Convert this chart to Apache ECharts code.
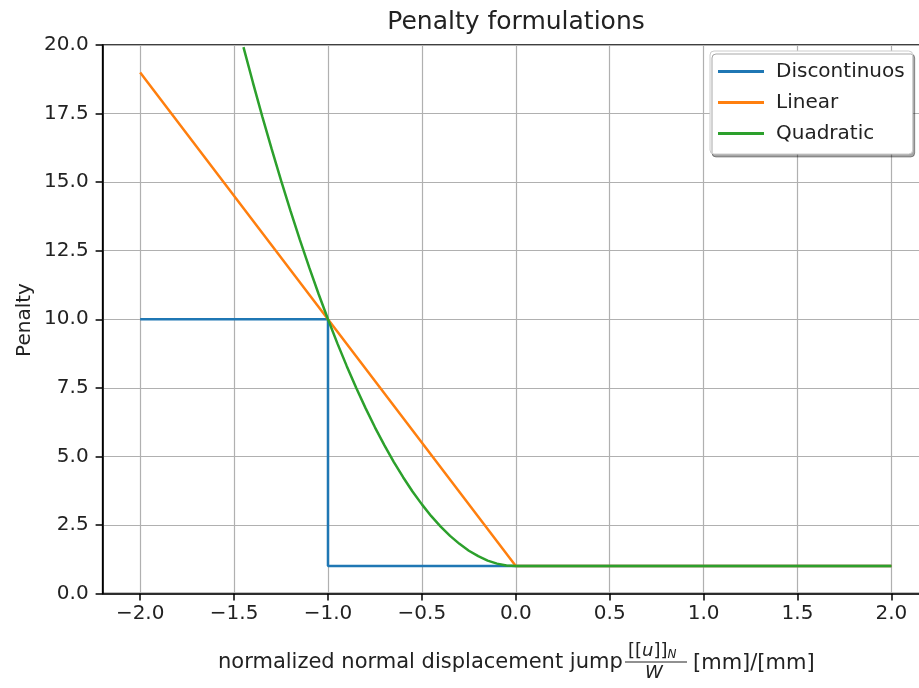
<!DOCTYPE html>
<html>
<head>
<meta charset="utf-8">
<script src="https://cdn.jsdelivr.net/npm/echarts@6/dist/echarts.min.js"></script>
<style>html,body{margin:0;padding:0;background:#fff}#c{width:919px;height:688px}</style>
</head>
<body>
<div id="c"></div>
<script>
// ---- data ----
const seriesNames = ['Discontinuos', 'Linear', 'Quadratic'];
const discX = [-2.0, -1.0, -1.0, 2.0];
const discY = [10.0, 10.0, 1.0, 1.0];
const linX = [-2.0, 0.0, 2.0];
const linY = [19.0, 1.0, 1.0];
const quadX = [-1.45, -1.40, -1.35, -1.30, -1.25, -1.20, -1.15, -1.10, -1.05, -1.00,
               -0.95, -0.90, -0.85, -0.80, -0.75, -0.70, -0.65, -0.60, -0.55, -0.50,
               -0.45, -0.40, -0.35, -0.30, -0.25, -0.20, -0.15, -0.10, -0.05, 0.00, 2.00];
const quadY = [19.92, 18.64, 17.40, 16.21, 15.06, 13.96, 12.90, 11.89, 10.92, 10.00,
               9.12, 8.29, 7.50, 6.76, 6.06, 5.41, 4.80, 4.24, 3.72, 3.25,
               2.82, 2.44, 2.10, 1.81, 1.56, 1.36, 1.20, 1.09, 1.02, 1.00, 1.00];
const xTicks = [-2.0, -1.5, -1.0, -0.5, 0.0, 0.5, 1.0, 1.5, 2.0];
const yTicks = [0, 2.5, 5, 7.5, 10, 12.5, 15, 17.5, 20];

const zip = (xs, ys) => xs.map((x, i) => [x, ys[i]]);
const FONT = 'DejaVu Sans';
const colors = ['#1f77b4', '#ff7f0e', '#2ca02c'];
const fmtX = v => (v < 0 ? '\u2212' : '') + Math.abs(v).toFixed(1);

const chart = echarts.init(document.getElementById('c'), null, {renderer: 'canvas'});
chart.setOption({
  animation: false,
  backgroundColor: '#fff',
  color: colors,
  grid: {left: 102.6, width: 826.4, top: 45, height: 548.5, show: true,
         outerBoundsMode: 'none', containLabel: false,
         borderColor: '#000', borderWidth: 1.5, backgroundColor: 'transparent'},
  xAxis: {
    type: 'value', min: -2.2, max: 2.2,
    axisLine: {show: true, onZero: false, lineStyle: {color: '#000', width: 1.5}},
    axisTick: {show: true, length: 7, lineStyle: {color: '#000', width: 1.5}, customValues: xTicks},
    axisLabel: {customValues: xTicks, formatter: fmtX, fontFamily: FONT, fontSize: 20, color: '#222', margin: 10},
    splitLine: {show: true, lineStyle: {color: '#b0b0b0', width: 1.2}}
  },
  yAxis: {
    type: 'value', min: 0, max: 20, interval: 2.5,
    axisLine: {show: true, onZero: false, lineStyle: {color: '#000', width: 1.5}},
    axisTick: {show: true, length: 7, lineStyle: {color: '#000', width: 1.5}},
    axisLabel: {formatter: v => v.toFixed(1), fontFamily: FONT, fontSize: 20, color: '#222', margin: 14},
    splitLine: {show: true, lineStyle: {color: '#b0b0b0', width: 1.2}}
  },
  legend: {
    orient: 'vertical', left: 710, top: 51,
    data: seriesNames,
    icon: 'rect', itemWidth: 46, itemHeight: 3, itemGap: 10,
    padding: [10, 8, 10, 8],
    backgroundColor: '#ffffff', borderColor: '#cccccc', borderWidth: 1, borderRadius: 4,
    shadowColor: 'rgba(0,0,0,0.35)', shadowOffsetX: 2, shadowOffsetY: 3, shadowBlur: 0,
    textStyle: {fontFamily: FONT, fontSize: 20, color: '#222', lineHeight: 21, padding: [0, 0, 0, 7]}
  },
  series: [
    {name: seriesNames[0], type: 'line', data: zip(discX, discY), showSymbol: false, symbol: 'none',
     lineStyle: {width: 2.5, color: colors[0]}, z: 2},
    {name: seriesNames[1], type: 'line', data: zip(linX, linY), showSymbol: false, symbol: 'none',
     lineStyle: {width: 2.5, color: colors[1]}, z: 3},
    {name: seriesNames[2], type: 'line', data: zip(quadX, quadY), showSymbol: false, symbol: 'none',
     lineStyle: {width: 2.5, color: colors[2]}, z: 4}
  ],
  graphic: [
    {type: 'text', x: 516, y: 22, style: {text: 'Penalty formulations', fontFamily: FONT, fontSize: 25,
      fill: '#222', align: 'center', verticalAlign: 'middle'}},
    {type: 'text', x: 25, y: 320, rotation: Math.PI / 2, style: {text: 'Penalty', fontFamily: FONT, fontSize: 20,
      fill: '#222', align: 'center', verticalAlign: 'middle'}},
    {type: 'text', x: 218, y: 663, style: {text: 'normalized normal displacement jump', fontFamily: FONT, fontSize: 21,
      fill: '#222', align: 'left', verticalAlign: 'middle'}},
    {type: 'text', x: 628, y: 651, style: {
      text: '{b|[[}{u|u}{b|]]}{s|N}',
      rich: {b: {fontFamily: FONT, fontSize: 18, fill: '#222'},
             u: {fontFamily: FONT, fontSize: 18, fontStyle: 'italic', fill: '#222'},
             s: {fontFamily: FONT, fontSize: 12, fontStyle: 'italic', fill: '#222', padding: [8, 0, 0, 0]}},
      align: 'left', verticalAlign: 'middle'}},
    {type: 'line', shape: {x1: 625, y1: 662, x2: 687, y2: 662}, style: {stroke: '#222', lineWidth: 1.2}},
    {type: 'text', x: 654, y: 673, style: {text: 'W', fontFamily: FONT, fontSize: 18, fontStyle: 'italic',
      fill: '#222', align: 'center', verticalAlign: 'middle'}},
    {type: 'text', x: 693, y: 664, style: {text: '[mm]/[mm]', fontFamily: FONT, fontSize: 21,
      fill: '#222', align: 'left', verticalAlign: 'middle'}}
  ]
});
</script>
</body>
</html>
